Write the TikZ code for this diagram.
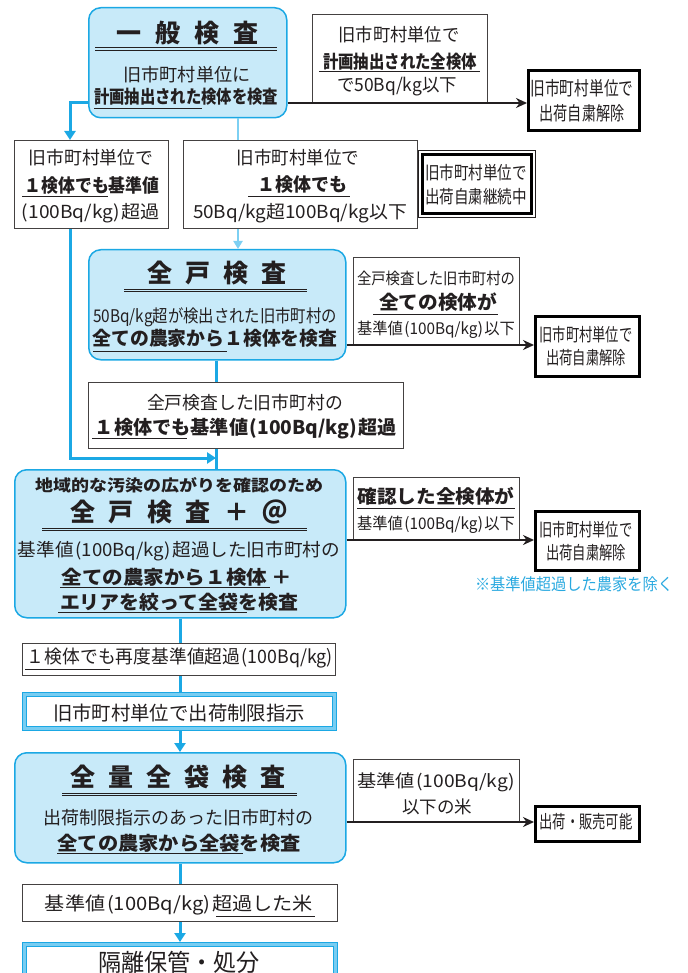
\documentclass[tikz,border=0pt]{standalone}
\usepackage{fontspec}
\setmainfont{Noto Sans CJK JP}
\usetikzlibrary{arrows.meta,calc}
\definecolor{txt}{RGB}{35,31,32}
\definecolor{bl}{RGB}{27,168,228}
\definecolor{lbl}{RGB}{125,208,243}
\definecolor{fillb}{RGB}{200,234,249}
\definecolor{band}{RGB}{120,205,242}
\definecolor{notec}{RGB}{41,169,224}
\newcommand\tl[3]{\fontsize{#1pt}{#1pt}\selectfont\resizebox{#2pt}{\height}{\vphantom{国}#3}}
\newcommand\ttl[2]{\fontsize{25pt}{25pt}\selectfont\bfseries #2}
\newcommand\lp{\kern1.5pt(}
\newcommand\rp{)\kern1.5pt}
\newcommand\bx[6]{\node[#1, anchor=north west, minimum width={(#5-#3)*1pt}, minimum height={(#6-#4)*1pt}] (#2) at (#3,#4) {};}
\tikzset{
  rbox/.style={draw=bl, line width=1.5pt, fill=fillb, rounded corners=12pt, inner sep=0},
  wbox/.style={draw=txt!85, line width=1.2pt, fill=white, inner sep=0},
  fbox/.style={draw=black, line width=2.6pt, fill=white, inner sep=0},
  thinbox/.style={draw=txt, line width=0.8pt, fill=white, inner sep=0},
  dbout/.style={draw=bl, line width=1.3pt, fill=band, inner sep=0},
  dbin/.style={draw=bl, line width=1.3pt, fill=white, inner sep=0},
  t/.style={inner sep=0, text=txt},
  bline/.style={draw=bl, line width=3pt},
  barrow/.style={bline, -{Triangle[length=9pt,width=11pt]}},
  lline/.style={draw=lbl, line width=2.2pt},
  larrow/.style={lline, -{Triangle[length=8pt,width=9pt]}},
  karrow/.style={draw=txt, line width=2.4pt, -{Stealth[length=11pt,width=10pt]}},
  uline/.style={draw=txt, line width=1pt},
}
\begin{document}
\begin{tikzpicture}[x=1pt,y=-1pt]
\useasboundingbox (0,0) rectangle (687,973);
\fill[white] (0,0) rectangle (687,973);
% boxes
\bx{rbox}{A}{88}{7}{286}{117}
\bx{wbox}{TRa}{312}{14}{487}{102}
\bx{fbox}{Fa}{527}{69}{638}{129}
\bx{wbox}{L}{14}{140}{168}{228}
\bx{wbox}{M}{183}{140}{417}{228}
\bx{thinbox}{Ko}{418}{150}{535}{217}
\node[fbox, minimum width=109pt, minimum height=59pt] (Ki) at (Ko.center) {};
\bx{rbox}{B}{88}{249}{345}{359}
\bx{wbox}{TRb}{353}{257}{519}{345}
\bx{fbox}{Fb}{534}{315}{638}{375}
\bx{wbox}{W}{88}{382}{403}{448}
\bx{rbox}{C}{14}{469}{345}{617}
\bx{wbox}{TRc}{353}{477}{519}{540}
\bx{fbox}{Fc}{534}{510}{638}{569}
\bx{wbox}{Ra}{22}{643}{335}{675}
\bx{dbout}{Rbo}{22}{692}{336}{730}
\node[dbin, minimum width=306pt, minimum height=30pt] (Rbi) at (Rbo.center) {};
\bx{rbox}{D}{14}{752}{345}{862}
\bx{wbox}{TRd}{353}{759}{519}{822}
\bx{fbox}{Fd}{534}{805}{638}{840}
\bx{wbox}{Rc}{22}{884}{337}{921}
\bx{dbout}{Eo}{22}{942}{337}{995}
\node[dbin, minimum width=307pt, minimum height=45pt] (Ei) at (Eo.center) {};
% coordinates for connectors
\coordinate (c1) at (70,103);
\coordinate (c2) at (70,458);
\coordinate (c3) at (216,458);
\coordinate (c4) at (238,0);
\coordinate (c5) at (180,0);
\coordinate (k1) at (0,103);
\coordinate (k2) at (0,345);
\coordinate (k3) at (0,540);
\coordinate (k4) at (0,822);
% connectors
\draw[barrow] (A.west |- c1) -- (c1) -- (c1 |- L.north);
\draw[barrow] (c1 |- L.south) -- (c2) -- (c3);
\draw[lline] (A.south -| c4) -- (M.north -| c4);
\draw[larrow] (M.south -| c4) -- (B.north -| c4);
\draw[bline] (B.south -| c3) -- (W.north -| c3);
\draw[bline] (W.south -| c3) -- (C.north -| c3);
\draw[bline] (C.south -| c5) -- (Ra.north -| c5);
\draw[bline] (Ra.south -| c5) -- (Rbo.north -| c5);
\draw[barrow] (Rbo.south -| c5) -- (D.north -| c5);
\draw[bline] (D.south -| c5) -- (Rc.north -| c5);
\draw[barrow] (Rc.south -| c5) -- (Eo.north -| c5);
\draw[karrow] (A.east |- k1) -- (Fa.west |- k1);
\draw[karrow] (B.east |- k2) -- (Fb.west |- k2);
\draw[karrow] (C.east |- k3) -- (Fc.west |- k3);
\draw[karrow] (D.east |- k4) -- (Fd.west |- k4);
% --- texts A
\node[t] (tA0) at (187,33) {\ttl{}{一\hspace{14pt}般\hspace{14pt}検\hspace{14pt}査}};
\draw[uline] (95,48) -- (277,48);
\draw[uline] (95,50.8) -- (277,50.8);
\node[t] (tA1) at (187,75) {\tl{18}{127}{旧市町村単位に}};
\node[t] (tA2) at (186,97) {\tl{18}{184}{\bfseries 計画抽出された検体を検査}};
\draw[uline] (94,109) -- (202,109);
% TRa
\node[t] (tTa1) at (399,35) {\tl{18}{121}{旧市町村単位で}};
\node[t] (tTa2) at (400,62) {\tl{18}{154}{\bfseries 計画抽出された全検体}};
\draw[uline] (319,72) -- (480,72);
\node[t] (tTa3) at (397,87) {\tl{18}{120}{で50Bq/kg以下}};
% Fa
\node[t] (tFa1) at (582,88) {\tl{19}{103}{旧市町村単位で}};
\node[t] (tFa2) at (582,113) {\tl{19}{85}{出荷自粛解除}};
% L
\node[t] (tL1) at (91,158) {\tl{18}{125}{旧市町村単位で}};
\node[t] (tL2) at (92,185) {\tl{18.5}{135}{\bfseries １検体でも基準値}};
\draw[uline] (22,197) -- (108,197);
\node[t] (tL3) at (91,213) {\tl{18}{138}{(100Bq/kg)\kern1.5pt 超過}};
% M
\node[t] (tM1) at (298,158) {\tl{18}{123}{旧市町村単位で}};
\node[t] (tM2) at (302,185) {\tl{18.5}{90}{\bfseries １検体でも}};
\draw[uline] (248,197) -- (350,197);
\node[t] (tM3) at (300,213) {\tl{18}{214}{50Bq/kg超100Bq/kg以下}};
% K
\node[t] (tK1) at (476,173) {\tl{18}{102}{旧市町村単位で}};
\node[t] (tK2) at (476,197) {\tl{18}{102}{出荷自粛継続中}};
% B
\node[t] (tB0) at (217,273) {\ttl{}{全\hspace{13pt}戸\hspace{13pt}検\hspace{13pt}査}};
\draw[uline] (124,289) -- (307,289);
\draw[uline] (124,291.8) -- (307,291.8);
\node[t] (tB1) at (215,317) {\tl{17.5}{244}{50Bq/kg超が検出された旧市町村の}};
\node[t] (tB2) at (215,338) {\tl{19}{245}{\bfseries 全ての農家から１検体を検査}};
\draw[uline] (93,351) -- (227,351);
% TRb
\node[t] (tTb1) at (436,278) {\tl{16}{158}{全戸検査した旧市町村の}};
\node[t] (tTb2) at (438,302) {\tl{19}{118}{\bfseries 全ての検体が}};
\draw[uline] (373,314) -- (498,314);
\node[t] (tTb3) at (436,330) {\tl{16}{158}{基準値\lp 100Bq/kg\rp 以下}};
% Fb
\node[t] (tFb1) at (586,335) {\tl{18}{93}{旧市町村単位で}};
\node[t] (tFb2) at (586,358) {\tl{18}{80}{出荷自粛解除}};
% W
\node[t] (tW1) at (245,403) {\tl{18}{196}{全戸検査した旧市町村の}};
\node[t] (tW2) at (246,429) {\tl{19}{302}{\bfseries １検体でも基準値\lp 100Bq/kg\rp 超過}};
\draw[uline] (92,438) -- (187,438);
% C
\node[t] (tC1) at (179,485) {\tl{16}{288}{\bfseries 地域的な汚染の広がりを確認のため}};
\node[t] (tC0) at (179,512) {\ttl{}{全\hspace{13.5pt}戸\hspace{13.5pt}検\hspace{13.5pt}査\hspace{13.5pt}＋\hspace{13.5pt}＠}};
\draw[uline] (42,528) -- (307,528);
\draw[uline] (42,530.8) -- (307,530.8);
\node[t] (tC2) at (179,551) {\tl{18}{322}{基準値\lp 100Bq/kg\rp 超過した旧市町村の}};
\node[t] (tC3) at (177,577) {\tl{19}{231}{\bfseries 全ての農家から１検体\ ＋}};
\draw[uline] (60,587) -- (270,587);
\node[t] (tC4) at (179,602) {\tl{19}{238}{\bfseries エリアを絞って全袋を検査}};
\draw[uline] (58,612) -- (247,612);
% TRc
\node[t] (tTc1) at (436,496) {\tl{18.5}{157}{\bfseries 確認した全検体が}};
\draw[uline] (357,508) -- (515,508);
\node[t] (tTc2) at (436,525) {\tl{16}{158}{基準値\lp 100Bq/kg\rp 以下}};
% Fc
\node[t] (tFc1) at (586,530) {\tl{18}{93}{旧市町村単位で}};
\node[t] (tFc2) at (586,553) {\tl{18}{80}{出荷自粛解除}};
\node[t, text=notec] (tNote) at (574,584) {\tl{16.5}{198}{※基準値超過した農家を除く}};
% Ra
\node[t] (tRa) at (180,658) {\tl{18.5}{306}{１検体でも再度基準値超過\lp 100Bq/kg)}};
\draw[uline] (25,669) -- (110,669);
% Rb
\node[t] (tRb) at (179,713) {\tl{19.5}{252}{旧市町村単位で出荷制限指示}};
% D
\node[t] (tD0) at (178,777) {\ttl{}{全\hspace{13pt}量\hspace{13pt}全\hspace{13pt}袋\hspace{13pt}検\hspace{13pt}査}};
\draw[uline] (62,793) -- (297,793);
\draw[uline] (62,795.8) -- (297,795.8);
\node[t] (tD1) at (178,818) {\tl{18}{270}{出荷制限指示のあった旧市町村の}};
\node[t] (tD2) at (179,843) {\tl{19}{243}{\bfseries 全ての農家から全袋を検査}};
\draw[uline] (57,853) -- (243,853);
% TRd
\node[t] (tTd1) at (436,782) {\tl{17.5}{158}{基準値\lp 100Bq/kg)}};
\node[t] (tTd2) at (437,807) {\tl{17.5}{70}{以下の米}};
% Fd
\node[t] (tFd) at (586,822) {\tl{18}{93}{出荷・販売可能}};
% Rc
\node[t] (tRc) at (179,905) {\tl{18.5}{268}{基準値\lp 100Bq/kg\rp 超過した米}};
\draw[uline] (216,916) -- (315,916);
% E
\node[t] (tE) at (179,962) {\tl{24}{162}{隔離保管・処分}};
\end{tikzpicture}
\end{document}
